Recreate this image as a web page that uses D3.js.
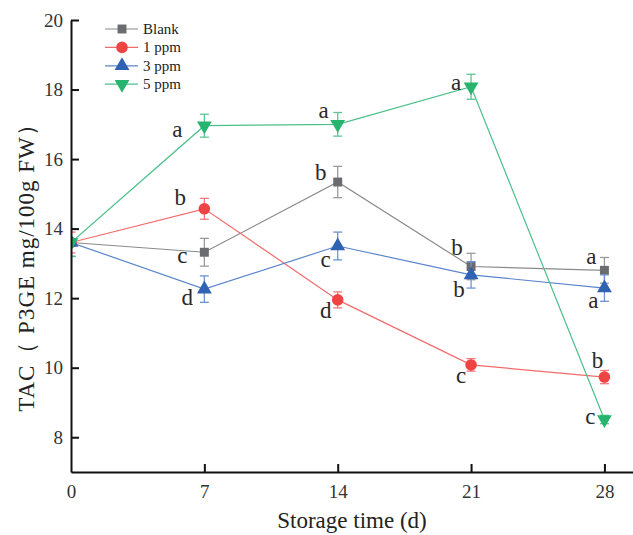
<!DOCTYPE html>
<html>
<head>
<meta charset="utf-8">
<script src="https://cdn.jsdelivr.net/npm/d3@7"></script>
<style>
  body { margin: 0; background: #fff; }
  svg { display: block; }
</style>
</head>
<body>
<div id="chart"></div>
<script>
// storage days
const days = [0, 7, 14, 21, 28];
const seriesNames = ["Blank", "1 ppm", "3 ppm", "5 ppm"];

// TAC values per series
const blank = [13.6, 13.32, 15.34, 12.91, 12.8];
const ppm1 = [13.6, 14.57, 11.95, 10.08, 9.73];
const ppm3 = [13.6, 12.26, 13.5, 12.67, 12.29];
const ppm5 = [13.6, 16.96, 17.0, 18.08, 8.51];

// standard deviations
const blankErr = [0.4, 0.4, 0.45, 0.38, 0.37];
const ppm1Err = [0.3, 0.3, 0.23, 0.18, 0.19];
const ppm3Err = [0.4, 0.38, 0.4, 0.38, 0.38];
const ppm5Err = [0.4, 0.33, 0.34, 0.36, 0.12];

// significance letters
const blankSig = ["", "c", "b", "b", "a"];
const ppm1Sig = ["", "b", "d", "c", "b"];
const ppm3Sig = ["", "d", "c", "b", "a"];
const ppm5Sig = ["", "a", "a", "a", "c"];

const yTicks = [8, 10, 12, 14, 16, 18, 20];
const xTicks = [0, 7, 14, 21, 28];

const width = 633, height = 535;
const padLeft = 71, padBottom = 472, padTop = 20;
const serif = "'Liberation Serif', 'Times New Roman', 'DejaVu Serif', serif";

const svg = d3.select("#chart").append("svg")
  .attr("width", width).attr("height", height)
  .style("background-color", "white");

const x = d3.scaleLinear().domain([0, 29.5]).range([padLeft, width]);
const y = d3.scaleLinear().domain([7, 20]).range([padBottom, padTop]);

const styles = [
  { line: "#8a8a8a", fill: "#6b6c70", err: "#9a9a9a", shape: d3.symbolSquare, size: 80, rot: 0 },
  { line: "#f26b6b", fill: "#ef4444", err: "#f07a7a", shape: d3.symbolCircle, size: 105, rot: 0 },
  { line: "#5b86cc", fill: "#2f62b3", err: "#6d93d2", shape: d3.symbolTriangle, size: 95, rot: 0 },
  { line: "#4cc08a", fill: "#27b46f", err: "#5cc597", shape: d3.symbolTriangle, size: 95, rot: 180 }
];

// letter offsets (px) from each point, layout only
const labelShift = [
  [null, [-22, 11], [-17, -2], [-14, -12], [-13, -6]],
  [null, [-24, -4], [-12, 18], [-10, 18], [-7, -9]],
  [null, [-17, 16], [-12, 21], [-12, 22], [-11, 20]],
  [null, [-27, 11], [-14, -6], [-15, 3], [-14, 5]]
];

const allVals = [blank, ppm1, ppm3, ppm5];
const allErr = [blankErr, ppm1Err, ppm3Err, ppm5Err];
const allSig = [blankSig, ppm1Sig, ppm3Sig, ppm5Sig];

svg.append("clipPath").attr("id", "plot-clip")
  .append("rect").attr("x", padLeft).attr("y", 0)
  .attr("width", width - padLeft).attr("height", padBottom);

const plot = svg.append("g").attr("clip-path", "url(#plot-clip)");

const line = d3.line().x((d, i) => x(days[i])).y(d => y(d));

allVals.forEach((vals, s) => {
  const st = styles[s];
  const g = plot.append("g");
  g.append("path").datum(vals)
    .attr("d", line).attr("fill", "none")
    .attr("stroke", st.line).attr("stroke-width", 1.2);

  // error bars
  vals.forEach((v, i) => {
    const cx = x(days[i]);
    const e = allErr[s][i];
    g.append("line").attr("x1", cx).attr("x2", cx)
      .attr("y1", y(v - e)).attr("y2", y(v + e))
      .attr("stroke", st.err).attr("stroke-width", 1.3);
    [v - e, v + e].forEach(w => {
      g.append("line").attr("x1", cx - 4.5).attr("x2", cx + 4.5)
        .attr("y1", y(w)).attr("y2", y(w))
        .attr("stroke", st.err).attr("stroke-width", 1.3);
    });
  });

  g.selectAll("path.mark").data(vals).enter().append("path")
    .attr("class", "mark")
    .attr("d", d3.symbol().type(st.shape).size(st.size))
    .attr("transform", (d, i) => `translate(${x(days[i])},${y(d)}) rotate(${st.rot})`)
    .attr("fill", st.fill);
});

// significance letters
allVals.forEach((vals, s) => {
  vals.forEach((v, i) => {
    const t = allSig[s][i];
    if (!t) return;
    const o = labelShift[s][i];
    svg.append("text")
      .attr("x", x(days[i]) + o[0]).attr("y", y(v) + o[1])
      .attr("text-anchor", "middle")
      .style("font-family", serif)
      .style("font-size", "23px")
      .attr("fill", "#2a2a2a")
      .text(t);
  });
});

// axes
const yAxis = d3.axisLeft(y).tickValues(yTicks).tickSizeInner(-8).tickSizeOuter(0).tickPadding(8);
const gy = svg.append("g").attr("transform", `translate(${padLeft},0)`).call(yAxis);

const xAxis = d3.axisBottom(x).tickValues(xTicks).tickSizeInner(-8).tickSizeOuter(0).tickPadding(13);
const gx = svg.append("g").attr("transform", `translate(0,${padBottom})`).call(xAxis);

[gx, gy].forEach(g => {
  g.attr("font-family", null);
  g.selectAll("text").style("font-family", serif).style("font-size", "19px").attr("fill", "#333");
  g.select(".domain").attr("stroke", "#111").attr("stroke-width", 2);
  g.selectAll(".tick line").attr("stroke", "#111").attr("stroke-width", 2);
});
gx.selectAll(".tick").filter(d => d === 0).select("line").remove();

// axis titles
svg.append("text")
  .attr("x", 352).attr("y", 528)
  .attr("text-anchor", "middle")
  .style("font-family", serif)
  .style("font-size", "23px")
  .attr("fill", "#222")
  .text("Storage time (d)");

svg.append("text")
  .attr("transform", `translate(34,262) rotate(-90)`)
  .attr("text-anchor", "middle")
  .style("font-family", serif)
  .style("font-size", "23px")
  .style("letter-spacing", "1px")
  .attr("fill", "#222")
  .text("TAC（ P3GE mg/100g FW）");

// legend
const legend = svg.append("g");
seriesNames.forEach((name, s) => {
  const st = styles[s];
  const ly = 29 + s * 18.4;
  legend.append("line").attr("x1", 105).attr("x2", 138)
    .attr("y1", ly).attr("y2", ly)
    .attr("stroke", st.line).attr("stroke-width", 1.2);
  legend.append("path")
    .attr("d", d3.symbol().type(st.shape).size(st.size))
    .attr("transform", `translate(122,${ly}) rotate(${st.rot})`)
    .attr("fill", st.fill);
  legend.append("text").attr("x", 143).attr("y", ly + 5)
    .style("font-family", serif)
    .style("font-size", "15px")
    .attr("fill", "#222")
    .text(name);
});
</script>
</body>
</html>
